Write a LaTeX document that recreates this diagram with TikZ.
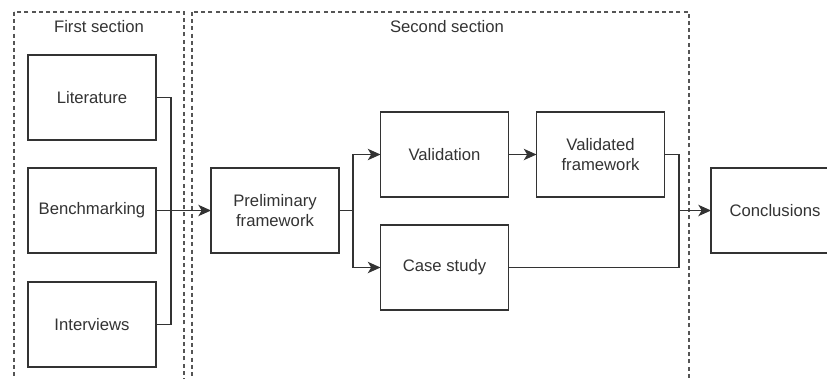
\documentclass[tikz,border=0pt]{standalone}
\usepackage{fontspec}
\setmainfont{Liberation Sans}
\usepackage{tikz}
\usetikzlibrary{arrows.meta}
\definecolor{linegray}{HTML}{333333}
\definecolor{framegray}{HTML}{555555}
\tikzset{
    blk/.style={draw=linegray, line width=1pt, fill=white, minimum width=96pt, minimum height=63.75pt,
      inner sep=2pt, outer sep=0pt, align=center, text=linegray, font=\fontsize{12.5}{14.5}\selectfont},
    frame/.style={draw=framegray, line width=0.8pt, dash pattern=on 3pt off 2.4pt},
    lbl/.style={text=linegray, font=\fontsize{12.5}{14.5}\selectfont},
    conn/.style={draw=linegray, line width=1pt},
    arr/.style={conn, -{Stealth[length=9.5pt, width=8.5pt, inset=2.5pt]}}}

\begin{document}
\begin{tikzpicture}[x=0.75pt, y=-0.75pt]
\useasboundingbox (0,0) rectangle (827,378);
\clip (0,0) rectangle (827,378);
% the two dashed section frames, running off the bottom
\draw[frame] (14,12) rectangle (184,400);
\draw[frame] (192,12) rectangle (689,400);
\node[lbl] (t1) at (99,27) {First section};
\node[lbl] (t2) at (447,27) {Second section};

% inputs
\node[blk] (lit) at (92,97.5) {Literature};
\node[blk] (bench) at (92,210.5) {Benchmarking};
\node[blk] (inter) at (92,324.5) {Interviews};

% framework steps
\node[blk] (prelim) at (275,210.5) {Preliminary\\framework};
\node[blk] (valid) at (444.5,154.5) {Validation};
\node[blk] (vfw) at (600.5,154.5) {Validated\\framework};
\node[blk] (case) at (444.5,267.5) {Case study};
\node[blk] (concl) at (775,210.5) {Conclusions};

\coordinate (jn1) at (171,210.5);
\coordinate (sp) at (353,210.5);
\coordinate (mg) at (679,210.5);

\draw[conn] (lit.east) -| (jn1);
\draw[conn] (inter.east) -| (jn1);
\draw[arr] (bench.east) -- (prelim.west);

\draw[conn] (prelim.east) -- (sp);
\draw[arr] (sp) |- (valid.west);
\draw[arr] (sp) |- (case.west);
\draw[arr] (valid.east) -- (vfw.west);

\draw[conn] (vfw.east) -| (mg);
\draw[conn] (case.east) -| (mg);
\draw[arr] (mg) -- (concl.west);
\end{tikzpicture}
\end{document}
